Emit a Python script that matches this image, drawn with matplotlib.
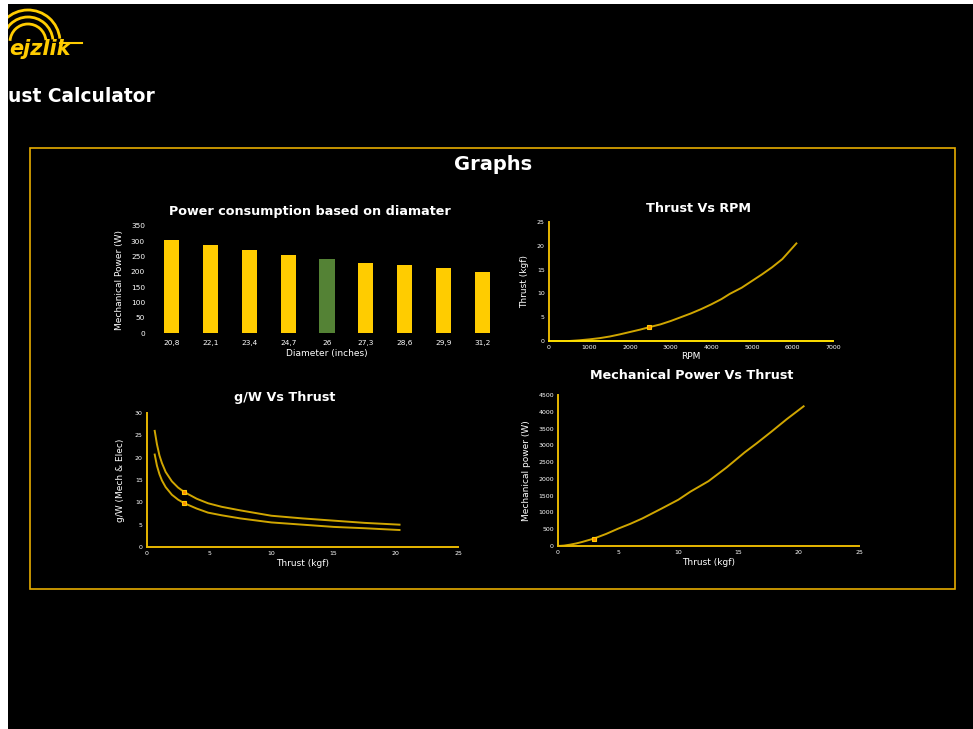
import matplotlib
matplotlib.use("Agg")
import matplotlib.pyplot as plt
from matplotlib.patches import Rectangle, Arc
from matplotlib.lines import Line2D

# ---------------- data ----------------
diameters = ["20,8", "22,1", "23,4", "24,7", "26", "27,3", "28,6", "29,9", "31,2"]
power_by_diam = [303, 288, 271, 254, 242, 229, 221, 213, 200]
highlight_index = 4

rpm = [500, 750, 1000, 1250, 1500, 1750, 2000, 2250, 2470, 2750, 3000, 3250, 3500,
       3750, 4000, 4250, 4456, 4750, 5000, 5250, 5500, 5750, 6097]
thrust_rpm = [0.0, 0.15, 0.35, 0.6, 0.95, 1.4, 1.9, 2.4, 2.9, 3.5, 4.2, 5.0, 5.8,
              6.7, 7.7, 8.8, 9.9, 11.2, 12.6, 14.0, 15.5, 17.2, 20.5]
rpm_mark = (2470, 2.9)

gw_thrust = [0.62, 0.8, 1.0, 1.2, 1.5, 2.0, 2.5, 3.0, 4.0, 4.9, 6.0, 7.5, 10, 12.5, 15, 17.5, 20.3]
gw_mech = [26.0, 23.0, 20.5, 18.8, 16.8, 14.7, 13.3, 12.3, 10.8, 9.8, 9.0, 8.2, 7.0, 6.4, 5.9, 5.4, 5.0]
gw_elec = [20.7, 18.2, 16.3, 14.9, 13.4, 11.7, 10.6, 9.8, 8.6, 7.7, 7.1, 6.4, 5.5, 5.0, 4.5, 4.2, 3.8]
gw_mark_x = 3.0

pw_thrust = [0, 0.5, 1.0, 1.5, 2.0, 2.96, 4.0, 5.0, 6.0, 7.0, 8.6, 10, 11, 12.5, 14, 15.5, 16.5, 17.7, 19, 20.4]
pw_power = [0, 12, 40, 75, 120, 219, 360, 518, 660, 820, 1115, 1380, 1620, 1932, 2340, 2789, 3060, 3400, 3780, 4163]
pw_mark = (2.96, 219)

# ---------------- style ----------------
W, H = 973, 729
YEL = "#FFCC00"
GREEN = "#548235"
GOLD = "#D0A600"
SPINE = "#E8B800"
FRAME = "#E6AC00"
WHITE = "#FFFFFF"

def fx(x):
    return x / W

def fy(y):
    return 1 - y / H

fig = plt.figure(figsize=(W / 100, H / 100), dpi=100, facecolor="white")

def ax_at(l, t, r, b):
    ax = fig.add_axes([fx(l), fy(b), (r - l) / W, (b - t) / H])
    ax.set_zorder(5)
    return ax

bg = Rectangle((fx(8), 0), 1 - fx(8), fy(4), transform=fig.transFigure,
               facecolor="black", edgecolor="none", zorder=-10)
fig.patches.append(bg)

# logo (partially clipped)
for r in [32, 25, 18]:
    arc = Arc((fx(28), fy(42)), 2 * r / W, 2 * r / H, theta1=8, theta2=175,
              transform=fig.transFigure, color=YEL, lw=2, zorder=1)
    arc.set_clip_path(bg)
    fig.patches.append(arc)
fig.text(fx(9), fy(49), "ejzlik", color=YEL, fontsize=15, fontweight="bold",
         style="italic", va="center", ha="left", family="DejaVu Sans", zorder=2)
fig.lines.append(Line2D([fx(60), fx(82)], [fy(43), fy(43)], transform=fig.transFigure,
                        color=YEL, lw=1.5, zorder=1))

fig.text(fx(8), fy(96), "ust Calculator", color=WHITE, fontsize=13.4, fontweight="bold",
         va="center", ha="left", zorder=2)

# frame
fig.patches.append(Rectangle((fx(30), fy(589)), fx(955) - fx(30), fy(148) - fy(589),
                             transform=fig.transFigure, facecolor="none",
                             edgecolor=FRAME, lw=1.2, zorder=1))
fig.text(fx(493), fy(164), "Graphs", color=WHITE, fontsize=14, fontweight="bold",
         ha="center", va="center", zorder=2)

def style_line_axes(ax):
    ax.set_facecolor("black")
    for s in ["top", "right"]:
        ax.spines[s].set_visible(False)
    for s in ["left", "bottom"]:
        ax.spines[s].set_color(SPINE)
        ax.spines[s].set_linewidth(1.4)
    ax.tick_params(colors=WHITE, labelsize=4.5, length=0, pad=3)

TS = 9.2

# ---------------- bar chart ----------------
ax1 = ax_at(152, 226, 502, 333)
ax1.set_facecolor("black")
cols = [GREEN if i == highlight_index else YEL for i in range(len(diameters))]
ax1.bar(range(len(diameters)), power_by_diam, width=0.39, color=cols)
ax1.set_xlim(-0.5, len(diameters) - 0.5)
ax1.set_ylim(0, 350)
ax1.set_yticks(range(0, 351, 50))
ax1.set_xticks(range(len(diameters)))
ax1.set_xticklabels(diameters)
for s in ax1.spines.values():
    s.set_visible(False)
ax1.tick_params(colors=WHITE, labelsize=5.3, length=0, pad=5)
ax1.set_ylabel("Mechanical Power (W)", color=WHITE, fontsize=6.5, labelpad=5)
ax1.set_xlabel("Diameter (inches)", color=WHITE, fontsize=6.5, labelpad=2)
fig.text(fx(310), fy(212), "Power consumption based on diamater", color=WHITE,
         fontsize=TS, fontweight="bold", ha="center", va="center", zorder=2)

# ---------------- thrust vs rpm ----------------
ax2 = ax_at(549, 222, 833, 341)
style_line_axes(ax2)
ax2.spines["bottom"].set_color("#FFE000")
ax2.plot(rpm, thrust_rpm, color=GOLD, lw=1.4)
ax2.plot([rpm_mark[0]], [rpm_mark[1]], marker="s", ms=3, mfc="#FF8C00", mec=YEL, mew=0.8)
ax2.set_xlim(0, 7000)
ax2.set_ylim(0, 25)
ax2.set_xticks(range(0, 7001, 1000))
ax2.set_yticks(range(0, 26, 5))
ax2.set_ylabel("Thrust (kgf)", color=WHITE, fontsize=6.5, labelpad=6)
ax2.set_xlabel("RPM", color=WHITE, fontsize=6.5, labelpad=1)
fig.text(fx(698), fy(208), "Thrust Vs RPM", color=WHITE, fontsize=TS,
         fontweight="bold", ha="center", va="center", zorder=2)

# ---------------- g/W vs thrust ----------------
ax3 = ax_at(147, 413, 458, 547)
style_line_axes(ax3)
ax3.plot(gw_thrust, gw_mech, color=GOLD, lw=1.4)
ax3.plot(gw_thrust, gw_elec, color=GOLD, lw=1.4)
i3 = gw_thrust.index(gw_mark_x)
ax3.plot([gw_mark_x, gw_mark_x], [gw_mech[i3], gw_elec[i3]], ls="none", marker="s", ms=3,
         mfc="#FF8C00", mec=YEL, mew=0.8)
ax3.set_xlim(0, 25)
ax3.set_ylim(0, 30)
ax3.set_xticks(range(0, 26, 5))
ax3.set_yticks(range(0, 31, 5))
ax3.set_ylabel("g/W (Mech & Elec)", color=WHITE, fontsize=6.5, labelpad=7)
ax3.set_xlabel("Thrust (kgf)", color=WHITE, fontsize=6.5, labelpad=2)
fig.text(fx(285), fy(397), "g/W Vs Thrust", color=WHITE, fontsize=TS,
         fontweight="bold", ha="center", va="center", zorder=2)

# ---------------- mech power vs thrust ----------------
ax4 = ax_at(558, 395, 859, 546)
style_line_axes(ax4)
ax4.plot(pw_thrust, pw_power, color=GOLD, lw=1.4)
ax4.plot([pw_mark[0]], [pw_mark[1]], marker="s", ms=3, mfc="#FF8C00", mec=YEL, mew=0.8)
ax4.set_xlim(0, 25)
ax4.set_ylim(0, 4500)
ax4.set_xticks(range(0, 26, 5))
ax4.set_yticks(range(0, 4501, 500))
ax4.set_ylabel("Mechanical power (W)", color=WHITE, fontsize=6.5, labelpad=5)
ax4.set_xlabel("Thrust (kgf)", color=WHITE, fontsize=6.5, labelpad=2)
fig.text(fx(692), fy(376), "Mechanical Power Vs Thrust", color=WHITE, fontsize=TS,
         fontweight="bold", ha="center", va="center", zorder=2)

fig.savefig("out.png", dpi=100, facecolor=fig.get_facecolor())
